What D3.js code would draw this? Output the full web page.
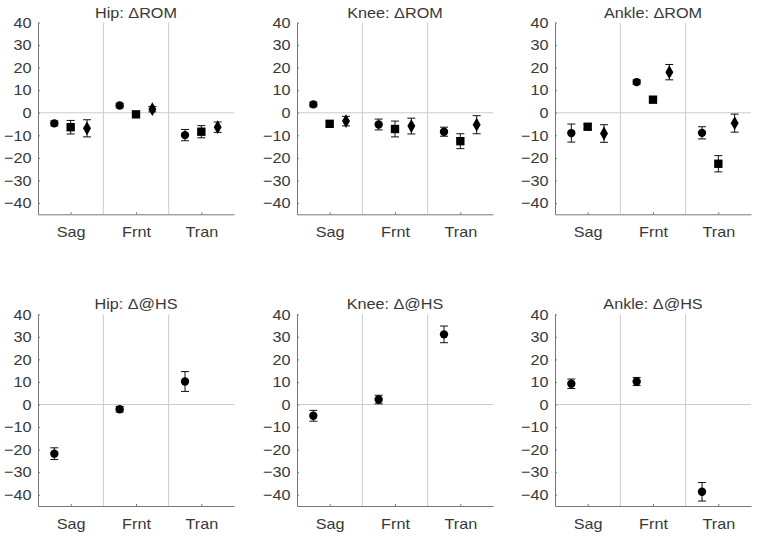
<!DOCTYPE html>
<html lang="en">
  <head>
    <meta charset="utf-8">
    <script type="text/javascript" src="https://d3js.org/d3.v7.min.js"></script>
    <style>
      body { margin: 0; background: white; }
      text { font-family: "Liberation Sans", Arial, sans-serif; }
    </style>
  </head>
  <body>
    <script type="text/javascript">

    // Categories and tick labels
    var categories = ["Sag", "Frnt", "Tran"];
    var yTicks = [-40, -30, -20, -10, 0, 10, 20, 30, 40];

    // Change in range of motion, [category][series]
    var hipRomMean = [[-4.7, -6.4, -6.9], [3.2, -0.7, 1.6], [-9.9, -8.4, -6.4]];
    var hipRomErr = [[1.1, 3.0, 3.8], [1.0, 1.0, 1.2], [2.5, 2.7, 2.3]];
    var kneeRomMean = [[3.7, -4.9, -3.7], [-5.2, -7.2, -5.9], [-8.4, -12.6, -5.3]];
    var kneeRomErr = [[1.0, 1.3, 2.1], [2.4, 3.5, 3.5], [2.0, 3.3, 4.0]];
    var ankleRomMean = [[-9.0, -6.2, -9.2], [13.6, 5.8, 18.0], [-8.9, -22.6, -4.6]];
    var ankleRomErr = [[4.0, 1.0, 3.9], [1.0, 1.3, 3.4], [2.7, 3.6, 4.0]];

    // Change at heel strike, [category]
    var hipHsMean = [-21.8, -2.1, 10.2];
    var hipHsErr = [2.6, 1.2, 4.4];
    var kneeHsMean = [-5.0, 2.2, 31.1];
    var kneeHsErr = [2.4, 1.9, 3.7];
    var ankleHsMean = [9.2, 10.2, -38.7];
    var ankleHsErr = [2.1, 1.8, 4.1];

    function wrap(arr) {
      return arr.map(function(v) { return [v]; });
    }

    var panels = [
      {title: "Hip: \u0394ROM", mean: hipRomMean, err: hipRomErr},
      {title: "Knee: \u0394ROM", mean: kneeRomMean, err: kneeRomErr},
      {title: "Ankle: \u0394ROM", mean: ankleRomMean, err: ankleRomErr},
      {title: "Hip: \u0394@HS", mean: wrap(hipHsMean), err: wrap(hipHsErr)},
      {title: "Knee: \u0394@HS", mean: wrap(kneeHsMean), err: wrap(kneeHsErr)},
      {title: "Ankle: \u0394@HS", mean: wrap(ankleHsMean), err: wrap(ankleHsErr)}
    ];

    // Layout
    var svgW = 757;
    var svgH = 541;
    var lefts = [38, 297, 555];
    var plotW = 196;
    var rows = [{top: 22.5, bottom: 214.3}, {top: 314.3, bottom: 506}];
    var offsets = [-0.25, 0, 0.25];
    var axisColor = "#777777";
    var textColor = "#383838";
    var stretch = "scale(1.08,1)"; // the source text is a bit wide

    var svg = d3.select("body")
                .append("svg")
                  .attr("width", svgW)
                  .attr("height", svgH);

    panels.forEach(function(p, i) {
      var left = lefts[i % 3];
      var row = rows[Math.floor(i / 3)];
      var h = row.bottom - row.top;

      var xScale = d3.scaleLinear()
                      .domain([0.5, 3.5])
                      .range([0, plotW]);
      var yScale = d3.scaleLinear()
                      .domain([-45, 40])
                      .range([h, 0]);

      var g = svg.append("g")
                  .attr("transform", "translate(" + left + "," + row.top + ")");

      // Zero line and category dividers
      g.append("line")
        .attr("x1", 0).attr("x2", plotW)
        .attr("y1", yScale(0)).attr("y2", yScale(0))
        .attr("stroke", "#cccccc");
      g.selectAll(".divider")
        .data([1.5, 2.5])
        .enter()
        .append("line")
          .attr("class", "divider")
          .attr("x1", function(d) { return xScale(d); })
          .attr("x2", function(d) { return xScale(d); })
          .attr("y1", 0).attr("y2", h)
          .attr("stroke", "#cccccc");

      // Axes
      var yAxis = d3.axisLeft(yScale)
                    .tickValues(yTicks)
                    .tickSizeInner(-2)
                    .tickSizeOuter(0)
                    .tickPadding(6);
      var yg = g.append("g").call(yAxis);
      yg.selectAll("text")
        .attr("fill", textColor)
        .attr("transform", stretch)
        .style("font-size", "15px");

      var xAxis = d3.axisBottom(xScale)
                    .tickValues([1, 2, 3])
                    .tickFormat(function(d) { return categories[d - 1]; })
                    .tickSizeInner(-2)
                    .tickSizeOuter(0)
                    .tickPadding(12);
      var xg = g.append("g")
                .attr("transform", "translate(0," + h + ")")
                .call(xAxis);
      xg.selectAll("text")
        .attr("fill", textColor)
        .attr("transform", stretch)
        .style("font-size", "15px");

      [yg, xg].forEach(function(a) {
        a.select(".domain").attr("stroke", axisColor);
        a.selectAll(".tick line").attr("stroke", axisColor);
      });

      // Title
      g.append("g")
        .attr("transform", "translate(" + (plotW / 2) + ",-5)")
        .append("text")
          .attr("transform", stretch)
          .style("text-anchor", "middle")
          .style("font-size", "15px")
          .attr("fill", textColor)
          .text(p.title);

      // Points with error bars
      var points = [];
      p.mean.forEach(function(vals, c) {
        vals.forEach(function(v, s) {
          points.push({x: c + 1 + offsets[s], y: v, e: p.err[c][s], s: s});
        });
      });

      var pts = g.selectAll(".pt")
                  .data(points)
                  .enter()
                  .append("g")
                    .attr("class", "pt");

      pts.append("line")
        .attr("x1", function(d) { return xScale(d.x); })
        .attr("x2", function(d) { return xScale(d.x); })
        .attr("y1", function(d) { return yScale(d.y + d.e); })
        .attr("y2", function(d) { return yScale(d.y - d.e); })
        .attr("stroke", "#111");
      [1, -1].forEach(function(sign) {
        pts.append("line")
          .attr("x1", function(d) { return xScale(d.x) - 4; })
          .attr("x2", function(d) { return xScale(d.x) + 4; })
          .attr("y1", function(d) { return yScale(d.y + sign * d.e); })
          .attr("y2", function(d) { return yScale(d.y + sign * d.e); })
          .attr("stroke", "#111");
      });

      var shapes = [d3.symbolCircle, d3.symbolSquare, d3.symbolDiamond];
      var sizes = [55, 70, 55];
      pts.append("path")
        .attr("transform", function(d) {
          return "translate(" + xScale(d.x) + "," + yScale(d.y) + ")";
        })
        .attr("d", function(d) {
          return d3.symbol().type(shapes[d.s]).size(sizes[d.s])();
        })
        .attr("fill", "#000");
    });
    </script>
  </body>
</html>
